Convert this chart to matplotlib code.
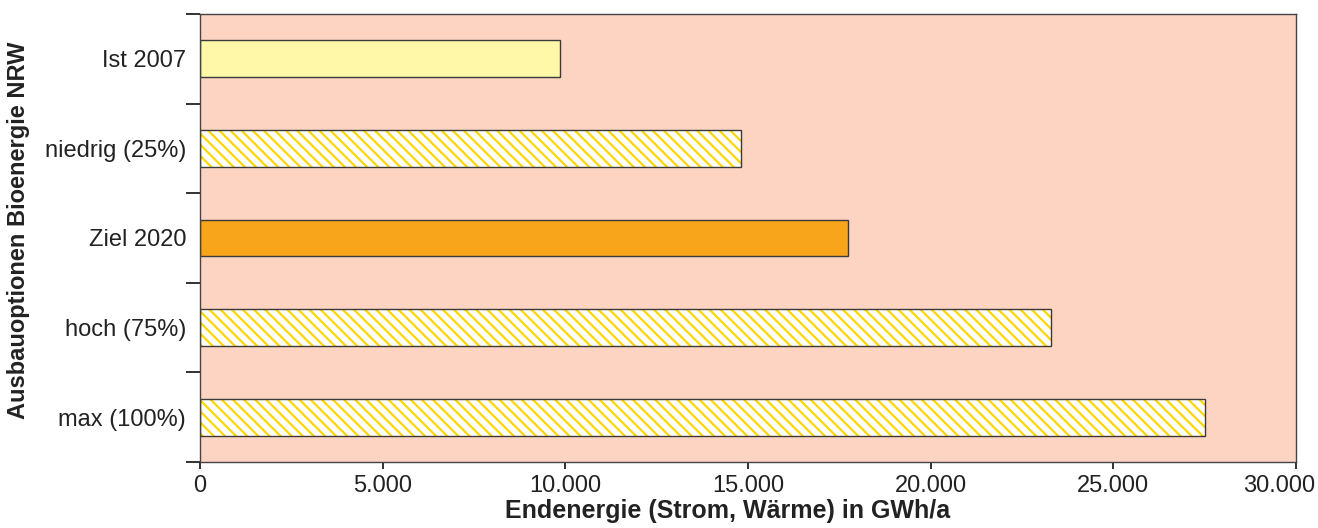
import matplotlib.pyplot as plt
from matplotlib.ticker import FuncFormatter
from matplotlib.transforms import ScaledTranslation

plt.rcParams['font.family'] = ['Liberation Sans', 'DejaVu Sans']
plt.rcParams['hatch.linewidth'] = 1.6

# Data
categories = ["Ist 2007", "niedrig (25%)", "Ziel 2020", "hoch (75%)", "max (100%)"]
values = [9850, 14800, 17750, 23300, 27500]
hatched = [False, True, False, True, True]
face_colors = ["#FFF8A8", "white", "#F9A51C", "white", "white"]
xticks = [0, 5000, 10000, 15000, 20000, 25000, 30000]

HATCH_COLOR = "#FFD700"
EDGE = "#3a3a3a"
BG = "#FDD3C2"


def thousands(x, pos):
    return f"{int(x):,}".replace(",", ".")


def main():
    fig = plt.figure(figsize=(13.18, 5.28), dpi=100)
    ax = fig.add_axes([0.1517, 0.125, 0.8316, 0.8485])
    ax.set_facecolor(BG)

    ypos = list(range(len(categories)))
    for y, v, fc, h in zip(ypos, values, face_colors, hatched):
        if h:
            # hatch drawn in gold, outline drawn separately in dark grey
            ax.barh(y, v, height=0.41, color=fc, edgecolor=HATCH_COLOR,
                    hatch="\\\\\\", linewidth=0)
            ax.barh(y, v, height=0.41, fill=False, edgecolor=EDGE, linewidth=1.0)
        else:
            ax.barh(y, v, height=0.41, color=fc, edgecolor=EDGE, linewidth=1.0)

    ax.set_xlim(0, 30000)
    ax.set_ylim(len(categories) - 0.5, -0.5)
    ax.set_xticks(xticks)
    ax.xaxis.set_major_formatter(FuncFormatter(thousands))
    ax.set_yticks(ypos)
    ax.set_yticklabels(categories)
    ax.set_yticks([i - 0.5 for i in range(len(categories) + 1)], minor=True)

    ax.tick_params(axis='y', which='major', length=0, pad=10, labelsize=17, colors="#222222")
    ax.tick_params(axis='y', which='minor', length=10, width=1.3, direction='out', color="#222222")
    ax.tick_params(axis='x', which='major', length=5, width=1.3, pad=4, labelsize=17, colors="#222222")

    # last x label pulled left so it stays inside the figure
    fig.canvas.draw()
    last = ax.get_xticklabels()[-1]
    last.set_transform(last.get_transform() + ScaledTranslation(-17 / 100, 0, fig.dpi_scale_trans))

    for sp in ax.spines.values():
        sp.set_color("#444444")
        sp.set_linewidth(1.0)

    ax.set_xlabel("Endenergie (Strom, Wärme) in GWh/a", fontsize=18, fontweight='bold', color="#222222")
    ax.xaxis.set_label_coords(0.481, -0.083)
    ax.set_ylabel("Ausbauoptionen Bioenergie NRW", fontsize=17, fontweight='bold', color="#222222")
    ax.yaxis.set_label_coords(-0.155, 0.518)

    plt.savefig("out.png", dpi=100)


if __name__ == "__main__":
    main()
